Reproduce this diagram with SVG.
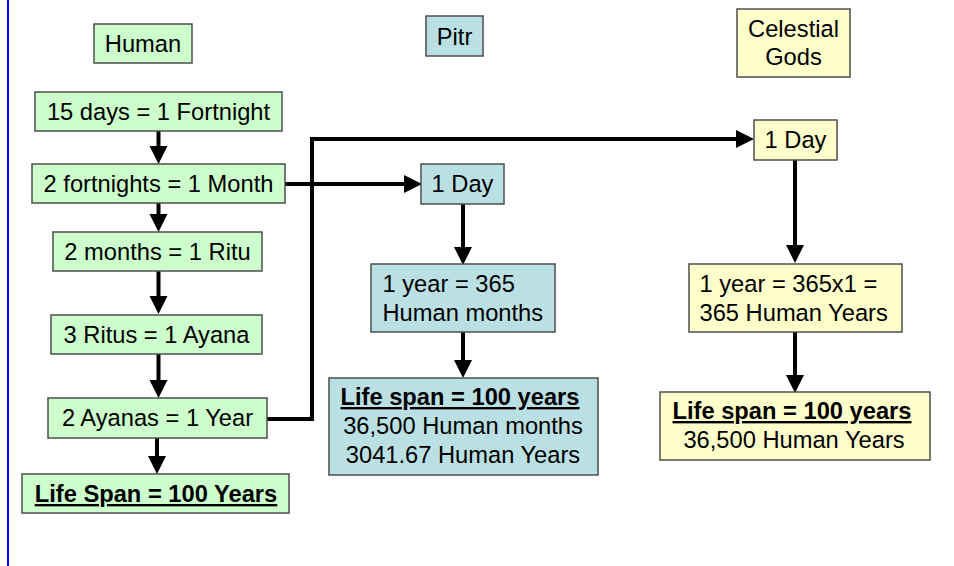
<svg xmlns="http://www.w3.org/2000/svg" width="954" height="566" viewBox="0 0 954 566">
<defs>
<marker id="ah" markerUnits="userSpaceOnUse" markerWidth="18" markerHeight="18" viewBox="0 0 18 18" refX="0" refY="9" orient="auto" overflow="visible">
<path d="M0,0 L18,9 L0,18 Z" fill="#000"/>
</marker>
</defs>
<style>
.box{stroke:#4d4d4d;stroke-width:1.5}
.g{fill:#CCFFCC}
.b{fill:#BBE0E3}
.y{fill:#FFFFCC}
text{font-family:"Liberation Sans",Arial,sans-serif;font-size:23.7px;fill:#000}
.c{text-anchor:middle}
.bu{font-weight:bold;text-decoration:underline}
.con{fill:none;stroke:#000;stroke-width:4;marker-end:url(#ah)}
</style>
<rect width="954" height="566" fill="#fff"/>
<line x1="8" y1="0" x2="8" y2="566" stroke="#0000FF" stroke-width="2"/>

<g id="connectors">
<path class="con" d="M158.5,131 V146"/>
<path class="con" d="M158.5,203 V214"/>
<path class="con" d="M158.5,271 V296"/>
<path class="con" d="M158.5,354 V380"/>
<path class="con" d="M157,438 V456"/>
<path class="con" d="M285,184 H404"/>
<path class="con" d="M267,419 H312 V139 H736"/>
<path class="con" d="M463,204 V247"/>
<path class="con" d="M463,332 V360"/>
<path class="con" d="M795,160 V245"/>
<path class="con" d="M795,332 V375"/>
</g>

<g id="human-header"><rect class="box g" x="94" y="24" width="98" height="39"/><text class="c" x="143" y="52">Human</text></g>
<g id="human-fortnight"><rect class="box g" x="35" y="92" width="247" height="39"/><text class="c" x="158.5" y="120">15 days = 1 Fortnight</text></g>
<g id="human-month"><rect class="box g" x="32" y="164" width="253" height="39"/><text class="c" x="158.5" y="192">2 fortnights = 1 Month</text></g>
<g id="human-ritu"><rect class="box g" x="53" y="232" width="209" height="39"/><text class="c" x="157.5" y="260">2 months = 1 Ritu</text></g>
<g id="human-ayana"><rect class="box g" x="51" y="315" width="211" height="39"/><text class="c" x="156.5" y="343">3 Ritus = 1 Ayana</text></g>
<g id="human-year"><rect class="box g" x="48" y="398" width="219" height="40"/><text class="c" x="157.5" y="426">2 Ayanas = 1 Year</text></g>
<g id="human-lifespan"><rect class="box g" x="22" y="474" width="267" height="39"/><text class="c bu" x="156" y="502">Life Span = 100 Years</text></g>

<g id="pitr-header"><rect class="box b" x="426" y="16" width="57" height="40"/><text class="c" x="454.5" y="45">Pitr</text></g>
<g id="pitr-day"><rect class="box b" x="421" y="164" width="83" height="40"/><text class="c" x="462.5" y="192">1 Day</text></g>
<g id="pitr-year"><rect class="box b" x="371" y="264" width="184" height="68"/><text x="382.5" y="292">1 year = 365</text><text x="382.5" y="321">Human months</text></g>
<g id="pitr-lifespan"><rect class="box b" x="329" y="378" width="269" height="97"/><text class="c bu" x="460" y="405">Life span = 100 years</text><text class="c" x="463" y="434">36,500 Human months</text><text class="c" x="463" y="463">3041.67 Human Years</text></g>

<g id="gods-header"><rect class="box y" x="737" y="9" width="113" height="68"/><text class="c" x="793.5" y="37">Celestial</text><text class="c" x="793.5" y="65">Gods</text></g>
<g id="gods-day"><rect class="box y" x="754" y="120" width="83" height="40"/><text class="c" x="795.5" y="148">1 Day</text></g>
<g id="gods-year"><rect class="box y" x="689" y="264" width="213" height="68"/><text x="699.5" y="292">1 year = 365x1 =</text><text x="699.5" y="321">365 Human Years</text></g>
<g id="gods-lifespan"><rect class="box y" x="660" y="392" width="270" height="68"/><text class="c bu" x="792" y="419">Life span = 100 years</text><text class="c" x="794" y="448">36,500 Human Years</text></g>
</svg>
